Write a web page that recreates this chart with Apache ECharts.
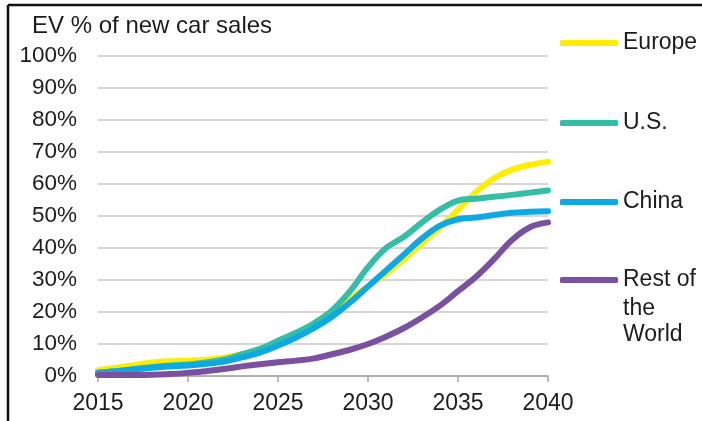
<!DOCTYPE html>
<html><head><meta charset="utf-8">
<script src="https://cdn.jsdelivr.net/npm/echarts@6/dist/echarts.min.js"></script>
<style>html,body{margin:0;padding:0;background:#fff}#c{width:702px;height:421px}</style>
</head><body><div id="c"></div>
<script>
var years = [2015,2016,2017,2018,2019,2020,2021,2022,2023,2024,2025,2026,2027,2028,2029,2030,2031,2032,2033,2034,2035,2036,2037,2038,2039,2040];
var europe = [1.8,2.6,3.4,4.2,4.6,4.8,5.1,5.7,6.8,8.3,10.5,13,16,19.5,24,28,32,36.5,41.5,46.5,52,57.5,61.8,64.5,66,67];
var us     = [1.0,1.5,2.2,2.8,3.3,3.6,4.2,5.2,6.8,8.5,11,13.5,16.5,20.5,26.5,34,40,43.5,48,52,54.8,55.4,56,56.6,57.3,58];
var china  = [1.0,1.5,2.0,2.6,3.0,3.3,3.8,4.5,5.8,7.3,9.5,12,15,18.5,23,28,33,38,43,47,49,49.5,50.3,51,51.3,51.5];
var rest   = [0.3,0.3,0.3,0.4,0.6,1.0,1.5,2.2,3.0,3.7,4.3,4.8,5.5,6.8,8.2,10,12.3,15,18.3,22,26.5,31,36.5,42.5,46.5,48];
var seriesNames = ['Europe','U.S.','China','Rest of the World'];
var colors = ['#FFEE00','#33BEA8','#0DA9E2','#7A50A0'];
var yTicks = [0,10,20,30,40,50,60,70,80,90,100];
var titleText = 'EV % of new car sales';

var FONT = 'Liberation Sans, Arial, sans-serif';
var TXT = '#1e1b1c';
function pairs(arr){ return years.map(function(y,i){ return [y, arr[i]]; }); }
var dataSets = [europe, us, china, rest];
var legendTops = [43, 123, 202, 280];

var chart = echarts.init(document.getElementById('c'), null, {renderer:'canvas'});
var option = {
  animation:false,
  backgroundColor:'#ffffff',
  title:{ text:titleText, left:32, top:14, padding:0,
    textStyle:{ fontFamily:FONT, fontSize:24, fontWeight:'normal', color:TXT } },
  grid:{ left:98, right:154, top:56, bottom:45 },
  xAxis:{ type:'value', min:2015, max:2040, interval:5,
    axisLine:{ show:true, lineStyle:{ color:'#a6a6a6', width:1.5 } },
    axisTick:{ show:true, length:6, inside:false, lineStyle:{ color:'#a6a6a6', width:1.5 } },
    axisLabel:{ fontFamily:FONT, fontSize:23, color:TXT, margin:16, formatter:function(v){return String(v);} },
    splitLine:{ show:false } },
  yAxis:{ type:'value', min:0, max:100, interval:10,
    axisLine:{ show:false }, axisTick:{ show:false },
    axisLabel:{ fontFamily:FONT, fontSize:22.5, color:TXT, margin:21, formatter:'{value}%' },
    splitLine:{ show:true, lineStyle:{ color:'#c8c8c8', width:1.5 } } },
  legend: seriesNames.map(function(n,i){
    return { data:[n], left:560, top:legendTops[i]-12, padding:0, orient:'vertical',
      itemWidth:58, itemHeight:6, icon:'roundRect', selectedMode:false,
      formatter: function(name){ return name === 'Rest of the World' ? 'Rest of' : name; },
      textStyle:{ fontFamily:FONT, fontSize:23, color:TXT, lineHeight:24 } };
  }),
  series: seriesNames.map(function(n,i){
    return { name:n, type:'line', data:pairs(dataSets[i]), smooth:0.35, showSymbol:false, symbol:'none',
      color:colors[i], lineStyle:{ color:colors[i], width:6, cap:'round', join:'round' }, z:2+i };
  }),
  graphic:[
    { type:'line', shape:{x1:8,y1:5,x2:702,y2:5}, style:{stroke:'#111',lineWidth:2.5}, silent:true },
    { type:'line', shape:{x1:8,y1:5,x2:8,y2:421}, style:{stroke:'#111',lineWidth:2.5}, silent:true },
    { type:'text', left:623, top:297, style:{ text:'the', font:'23px '+FONT, fill:TXT } },
    { type:'text', left:623, top:323, style:{ text:'World', font:'23px '+FONT, fill:TXT } }
  ]
};
chart.setOption(option);
</script></body></html>
